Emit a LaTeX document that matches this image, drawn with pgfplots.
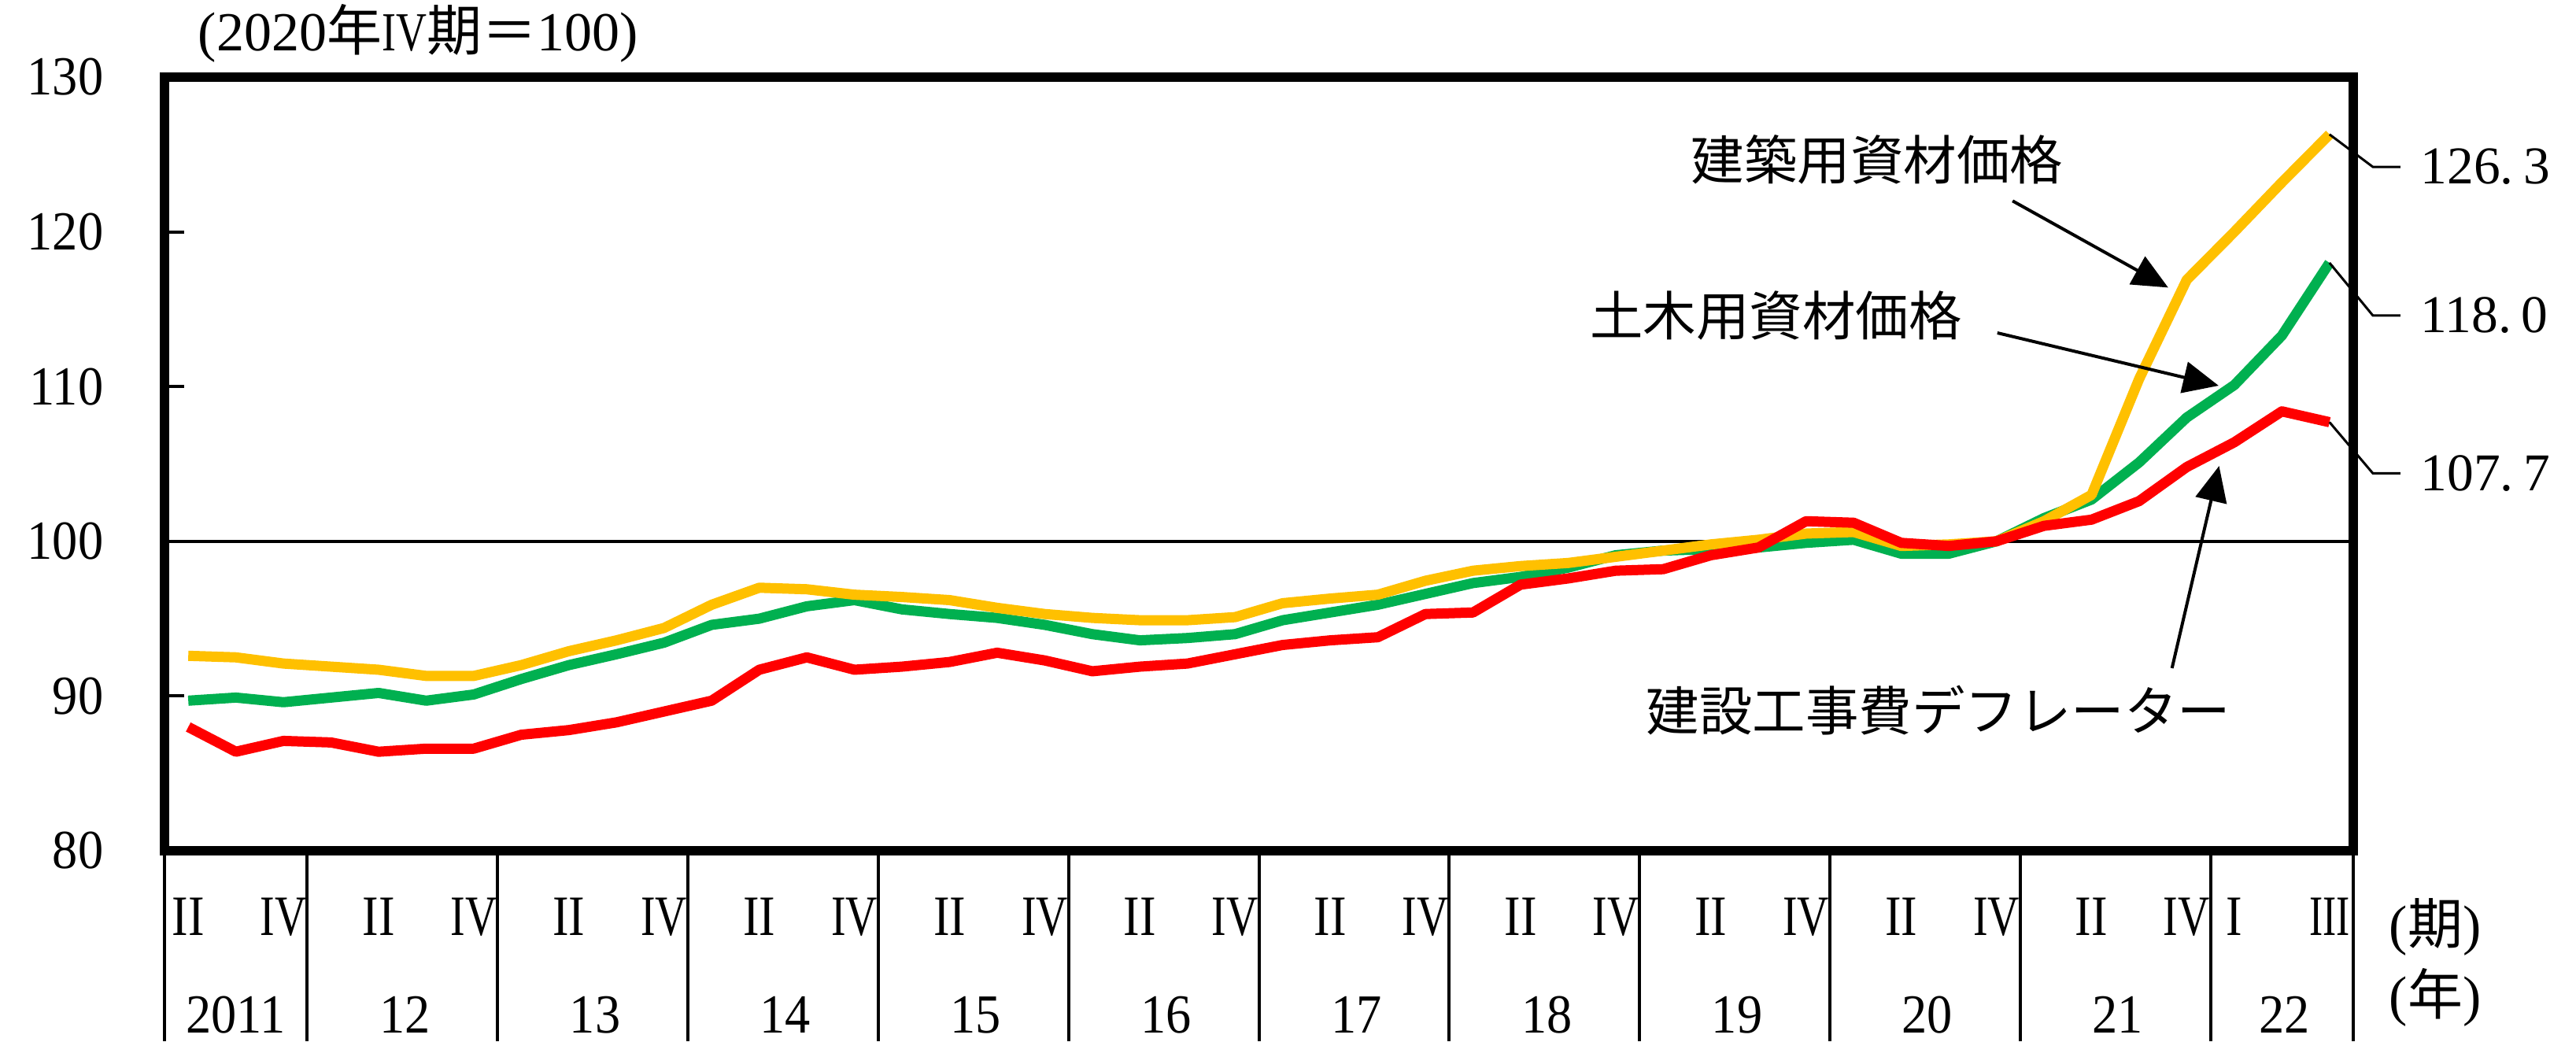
\documentclass[border=0pt]{standalone}
\usepackage{fontspec}
\setmainfont{Liberation Serif}
\newfontfamily\jp{Noto Sans CJK JP}
\newfontfamily\numf{Liberation Serif}[FakeStretch=0.92]
\newfontfamily\romA{Liberation Serif}[FakeStretch=0.85]
\newfontfamily\romB{Liberation Serif}[FakeStretch=0.77]
\newfontfamily\romC{Liberation Serif}[FakeStretch=0.71]
\usepackage{pgfplots}
\pgfplotsset{compat=1.18}
\usepackage{pgfplotstable}
\usetikzlibrary{arrows.meta}

\definecolor{cyel}{HTML}{FFC000}
\definecolor{cgrn}{HTML}{00B050}
\definecolor{cred}{HTML}{FF0000}

\newcommand{\nsz}{\fontsize{14pt}{16pt}\selectfont}
\newcommand{\qsz}{\fontsize{14.5pt}{16pt}\selectfont}

% i : quarter index (0 = 2011 Q2 ... 45 = 2022 Q3)
% y : building materials, g : civil engineering materials, r : deflator
\pgfplotstableread{
i  y      g      r
0  92.6   89.7   88.0
1  92.5   89.9   86.4
2  92.1   89.6   87.1
3  91.9   89.9   87.0
4  91.7   90.2   86.4
5  91.3   89.7   86.6
6  91.3   90.1   86.6
7  92.0   91.1   87.5
8  92.9   92.0   87.8
9  93.6   92.7   88.3
10 94.4   93.45  89.0
11 95.9   94.6   89.7
12 97.0   95.0   91.7
13 96.9   95.8   92.5
14 96.55  96.2   91.7
15 96.4   95.6   91.9
16 96.2   95.3   92.2
17 95.7   95.05  92.8
18 95.3   94.6   92.3
19 95.05  94.0   91.6
20 94.9   93.6   91.9
21 94.9   93.75  92.1
22 95.1   94.0   92.7
23 96.0   94.9   93.3
24 96.3   95.4   93.6
25 96.55  95.9   93.8
26 97.45  96.6   95.3
27 98.1   97.3   95.4
28 98.4   97.7   97.2
29 98.6   98.3   97.6
30 99.0   99.1   98.1
31 99.4   99.4   98.2
32 99.8   99.5   99.1
33 100.1  99.6   99.6
34 100.5  99.9   101.3
35 100.6  100.1  101.2
36 99.7   99.2   99.9
37 99.8   99.2   99.7
38 100.0  100.0  100.0
39 101.3  101.5  101.0
40 103.0  102.7  101.4
41 110.5  105.1  102.6
42 116.9  108.0  104.8
43 120.0  110.1  106.4
44 123.2  113.3  108.4
45 126.3  118.0  107.7
}\data

\begin{document}
\begin{tikzpicture}[font=\nsz]
\path[use as bounding box] (-41.8pt,-48.4pt) rectangle (612.8pt,216.2pt);
\begin{axis}[
  width=556.2pt, height=196.6pt, scale only axis,
  xmin=-0.5, xmax=45.5, ymin=80, ymax=130,
  xtick=\empty,
  ytick={80,90,100,110,120,130},
  ytick pos=left, tick align=inside,
  major tick length=5pt,
  tick style={black, line width=0.8pt},
  axis line style={line width=2.4pt},
  yticklabel style={xshift=-12pt},
  /pgf/number format/assume math mode=true,
  ticklabel style={font=\numf\nsz},
  clip=false,
]
% reference line at 100
\addplot[black, line width=0.8pt, no markers] coordinates {(-0.5,100) (45.5,100)};
% series
\addplot[cgrn, line width=2.6pt, no markers, line join=round] table[x=i,y=g]{\data};
\addplot[cyel, line width=2.6pt, no markers, line join=round] table[x=i,y=y]{\data};
\addplot[cred, line width=2.6pt, no markers, line join=round] table[x=i,y=r]{\data};

% year separators below the axis
\pgfplotsinvokeforeach{-0.5,2.5,6.5,10.5,14.5,18.5,22.5,26.5,30.5,34.5,38.5,42.5,45.5}{
  \draw[black, line width=0.8pt] (axis cs:#1,80) -- (axis cs:#1,67.69);
}
% quarter labels
\pgfplotsinvokeforeach{0,4,8,12,16,20,24,28,32,36,40}{
  \node[inner sep=0pt, font=\romA\qsz] at (axis cs:#1,75.73) {II};
}
\pgfplotsinvokeforeach{2,6,10,14,18,22,26,30,34,38,42}{
  \node[inner sep=0pt, font=\romB\qsz] at (axis cs:#1,75.73) {IV};
}
\node[inner sep=0pt, font=\romA\qsz] at (axis cs:43,75.73) {I};
\node[inner sep=0pt, font=\romC\qsz] at (axis cs:45,75.73) {III};
% year labels
\begin{scope}[every node/.style={inner sep=0pt, font=\numf\nsz}]
\node at (axis cs:1.0,69.4) {2011};
\node at (axis cs:4.55,69.4) {12};
\node at (axis cs:8.55,69.4) {13};
\node at (axis cs:12.55,69.4) {14};
\node at (axis cs:16.55,69.4) {15};
\node at (axis cs:20.55,69.4) {16};
\node at (axis cs:24.55,69.4) {17};
\node at (axis cs:28.55,69.4) {18};
\node at (axis cs:32.55,69.4) {19};
\node at (axis cs:36.55,69.4) {20};
\node at (axis cs:40.55,69.4) {21};
\node at (axis cs:44.05,69.4) {22};
\end{scope}
\node[inner sep=0pt] at (axis cs:47.22,75.07) {({\jp 期})};
\node[inner sep=0pt] at (axis cs:47.22,70.5) {({\jp 年})};

% title
\node[inner sep=0pt] at (axis cs:4.83,132.85) {(2020{\jp 年}{\romB IV}{\jp 期＝}100)};

% leader lines and end values
\begin{scope}[every node/.style={anchor=west, inner sep=0pt, font=\fontsize{13.5pt}{16pt}\selectfont}]
\draw[black, line width=0.6pt] (axis cs:45,126.3) -- (axis cs:45.91,124.2) -- (axis cs:46.49,124.2);
\node at (axis cs:46.9,124.2) {126.\hspace{2.5pt}3};
\draw[black, line width=0.6pt] (axis cs:45,118.0) -- (axis cs:45.91,114.6) -- (axis cs:46.49,114.6);
\node at (axis cs:46.9,114.6) {118.\hspace{2.5pt}0};
\draw[black, line width=0.6pt] (axis cs:45,107.7) -- (axis cs:45.91,104.4) -- (axis cs:46.49,104.4);
\node at (axis cs:46.9,104.4) {107.\hspace{2.5pt}7};
\end{scope}

% annotations
\node[inner sep=0pt, font=\jp\fontsize{13.5pt}{16pt}\selectfont] at (axis cs:35.49,124.66) {建築用資材価格};
\node[inner sep=0pt, font=\jp\fontsize{13.5pt}{16pt}\selectfont] at (axis cs:33.37,114.6) {土木用資材価格};
\node[inner sep=0pt, font=\jp\fontsize{13.5pt}{16pt}\selectfont] at (axis cs:36.78,89.1) {建設工事費デフレーター};
\draw[black, line width=0.8pt, -{Triangle[length=9pt,width=8pt]}] (axis cs:38.34,122.0) -- (axis cs:41.61,116.4);
\draw[black, line width=0.8pt, -{Triangle[length=9pt,width=8pt]}] (axis cs:38.02,113.47) -- (axis cs:42.67,110.06);
\draw[black, line width=0.8pt, -{Triangle[length=9pt,width=8pt]}] (axis cs:41.69,91.8) -- (axis cs:42.68,104.87);
\end{axis}
\end{tikzpicture}
\end{document}
